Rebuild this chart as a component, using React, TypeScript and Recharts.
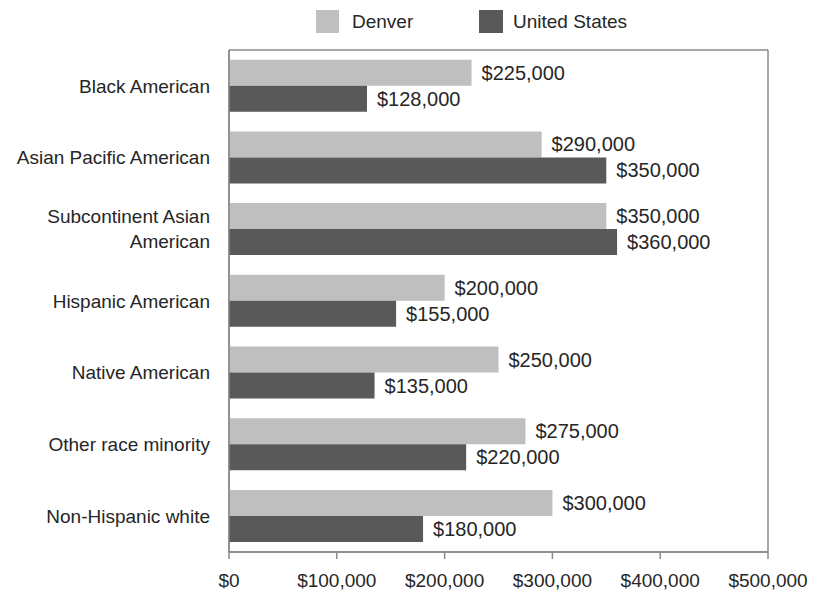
import React from 'react';
import { BarChart, Bar, XAxis, YAxis, CartesianGrid, LabelList, Legend } from 'recharts';

const categories = [
  'Black American',
  'Asian Pacific American',
  'Subcontinent Asian American',
  'Hispanic American',
  'Native American',
  'Other race minority',
  'Non-Hispanic white',
];
const denverValues = [225000, 290000, 350000, 200000, 250000, 275000, 300000];
const usValues = [128000, 350000, 360000, 155000, 135000, 220000, 180000];
const xTicks = [0, 100000, 200000, 300000, 400000, 500000];

const data = categories.map((c, i) => ({ name: c, denver: denverValues[i], us: usValues[i] }));

const FONT = '"Liberation Sans", Arial, sans-serif';
const TEXT = '#262626';
const FRAME = '#8a8a8a';
const DENVER = '#bfbfbf';
const US = '#595959';

const money = (v: number) => '$' + Number(v).toLocaleString('en-US');

const wrapLabel = (s: string): string[] => {
  if (s.length <= 23) return [s];
  const cut = s.lastIndexOf(' ', 20);
  return [s.slice(0, cut), s.slice(cut + 1)];
};

const CategoryTick = (props: any) => {
  const { x, y, payload } = props;
  const lines = wrapLabel(String(payload.value));
  const lh = 25;
  const start = -((lines.length - 1) * lh) / 2;
  return (
    <text x={x} y={y} textAnchor="end" fontSize={19} fontFamily={FONT} fill={TEXT}>
      {lines.map((l, i) => (
        <tspan key={i} x={x} y={y + start + i * lh} dy="0.35em">
          {l}
        </tspan>
      ))}
    </text>
  );
};

const LegendContent = () => (
  <div style={{ position: 'relative', width: 809, height: 42, fontFamily: FONT, fontSize: 19, color: TEXT }}>
    <div style={{ position: 'absolute', left: 308, top: 2, width: 23, height: 23, background: DENVER }} />
    <div style={{ position: 'absolute', left: 344, top: 2, lineHeight: '23px' }}>Denver</div>
    <div style={{ position: 'absolute', left: 471, top: 2, width: 24, height: 23, background: US }} />
    <div style={{ position: 'absolute', left: 505, top: 2, lineHeight: '23px' }}>United States</div>
  </div>
);

export default function App() {
  return (
    <BarChart
      width={809}
      height={584}
      data={data}
      layout="vertical"
      margin={{ top: 0, right: 49, bottom: 0, left: 0 }}
      barCategoryGap="13.5%"
      barGap={0}
    >
      <Legend
        verticalAlign="top"
        align="left"
        content={<LegendContent />}
        wrapperStyle={{ top: 0, left: 0, width: 809, height: 42 }}
      />
      <CartesianGrid
        stroke={FRAME}
        strokeWidth={1.5}
        horizontalCoordinatesGenerator={(p: any) => [p.offset.top, p.offset.top + p.offset.height]}
        verticalCoordinatesGenerator={(p: any) => [p.offset.left, p.offset.left + p.offset.width]}
      />
      <XAxis
        type="number"
        domain={[0, 500000]}
        ticks={xTicks}
        tickFormatter={money}
        height={40}
        tickSize={7}
        tickMargin={15}
        axisLine={{ stroke: FRAME, strokeWidth: 1.5 }}
        tickLine={{ stroke: FRAME, strokeWidth: 1.5 }}
        tick={{ fontSize: 19, fontFamily: FONT, fill: TEXT }}
        interval={0}
      />
      <YAxis
        type="category"
        dataKey="name"
        width={221}
        tickSize={0}
        tickMargin={19}
        tickLine={false}
        axisLine={{ stroke: FRAME, strokeWidth: 1.5 }}
        tick={<CategoryTick />}
        interval={0}
      />
      <Bar dataKey="denver" name="Denver" fill={DENVER} isAnimationActive={false}>
        <LabelList
          dataKey="denver"
          position="right"
          offset={10}
          formatter={money}
          style={{ fontSize: 20, fontFamily: FONT, fill: TEXT }}
        />
      </Bar>
      <Bar dataKey="us" name="United States" fill={US} isAnimationActive={false}>
        <LabelList
          dataKey="us"
          position="right"
          offset={10}
          formatter={money}
          style={{ fontSize: 20, fontFamily: FONT, fill: TEXT }}
        />
      </Bar>
    </BarChart>
  );
}
